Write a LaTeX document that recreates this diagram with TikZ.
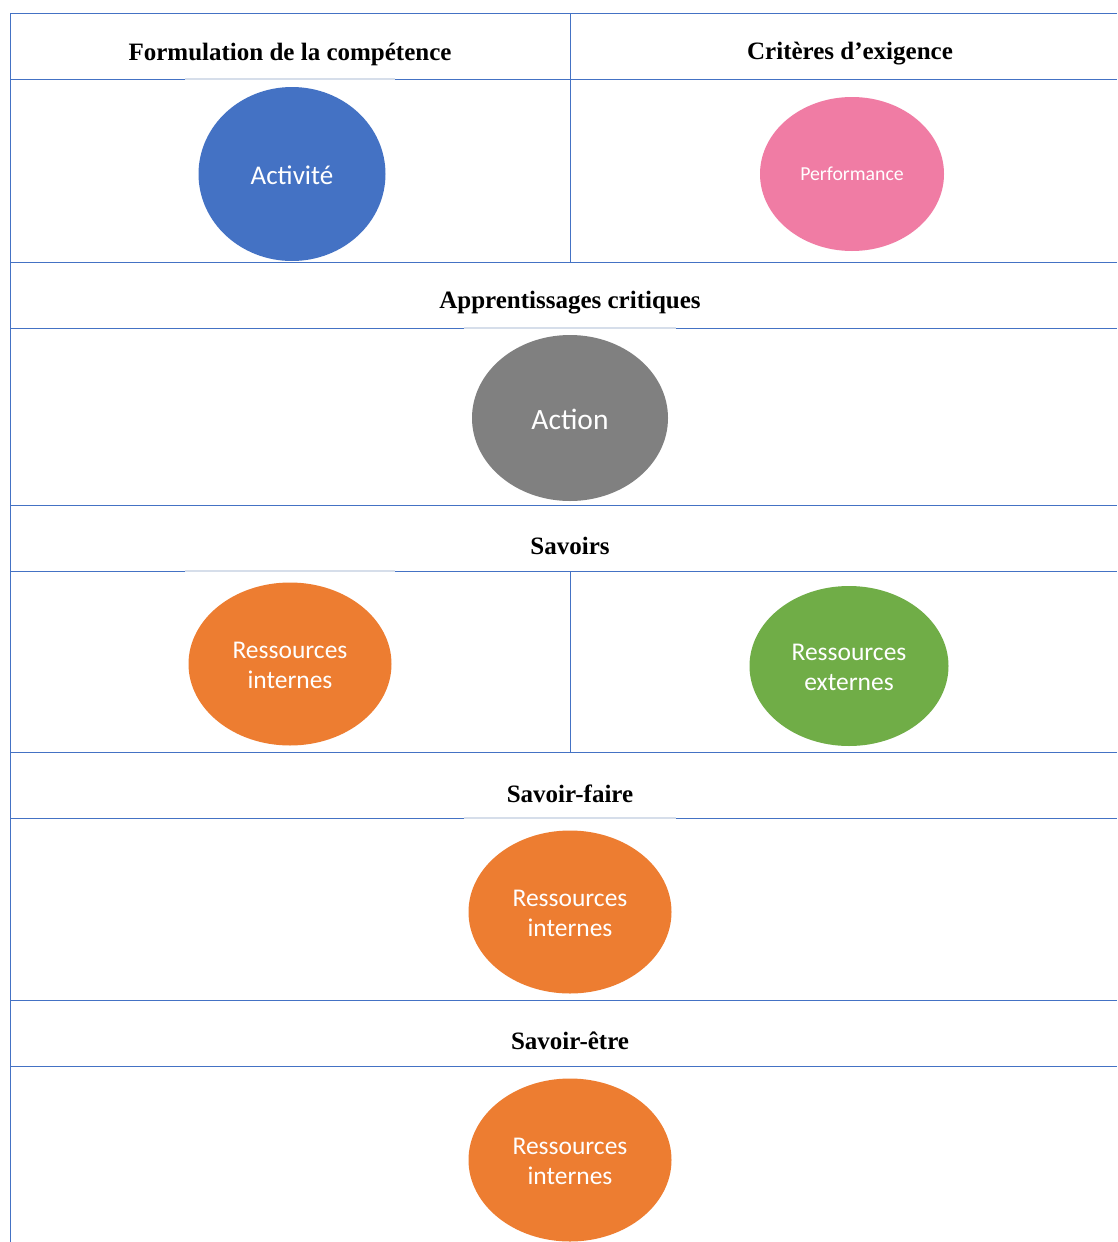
\documentclass[tikz,border=0pt]{standalone}
\usepackage{fontspec}
\setmainfont{Liberation Serif}
\newfontfamily\calib{Carlito}
\usetikzlibrary{shapes.geometric}
\definecolor{gridblue}{RGB}{68,114,196}
\definecolor{gaplight}{RGB}{214,222,234}
\definecolor{cblue}{RGB}{68,114,196}
\definecolor{cpink}{RGB}{240,124,164}
\definecolor{cgray}{RGB}{128,128,128}
\definecolor{corange}{RGB}{237,125,49}
\definecolor{cgreen}{RGB}{112,173,71}
\tikzset{
  gridline/.style={draw=gridblue,line width=1pt},
  gapline/.style={draw=gaplight,line width=1.2pt},
  hdr/.style={font=\fontsize{25}{29}\selectfont\bfseries,text=black,inner sep=0pt},
  blob/.style={ellipse,draw=none,inner sep=0pt,text=white,align=center},
  two/.style={font=\calib\fontsize{25.5}{30}\selectfont},
}
\begin{document}
\begin{tikzpicture}[x=1pt,y=-1pt]
\useasboundingbox (0,0) rectangle (1117,1242);
\fill[white] (0,0) rectangle (1117,1242);
% horizontal lines
\foreach \yy in {13,79,262,328,505,571,752,818,1000,1066}
  \draw[gridline] (10,\yy) -- (1117,\yy);
% verticals
\draw[gridline] (10,13) -- (10,1242);
\draw[gridline] (570,13) -- (570,262);
\draw[gridline] (570,571) -- (570,752);
% light gaps
\draw[gapline] (185,79) -- (395,79);
\draw[gapline] (464,328) -- (676,328);
\draw[gapline] (185,571) -- (395,571);
\draw[gapline] (464,818) -- (676,818);
% headers
\node[hdr] (h1) at (290,54) {Formulation de la compétence};
\node[hdr] (h2) at (850,54) {Critères d’exigence};
\node[hdr] (h3) at (570,303) {Apprentissages critiques};
\node[hdr] (h4) at (570,546) {Savoirs};
\node[hdr] (h5) at (570,794) {Savoir-faire};
\node[hdr] (h6) at (570,1041) {Savoir-être};
% ellipses
\node[blob,fill=cblue,minimum width=187,minimum height=174] (act) at (292,174) {};
\node[text=white,font=\calib\fontsize{27}{30}\selectfont] at ([yshift=-1]act.center) {Activité};
\node[blob,fill=cpink,minimum width=184,minimum height=154,font=\calib\fontsize{19.8}{23}\selectfont] (perf) at (852,174) {Performance};
\node[blob,fill=cgray,minimum width=196,minimum height=166] (action) at (570,418) {};
\node[text=white,font=\calib\fontsize{29.5}{32}\selectfont] at ([yshift=-1]action.center) {Action};
\node[blob,two,fill=corange,minimum width=203,minimum height=163] (ri1) at (290,664) {};
\node[two,text=white,align=center] at ([yshift=-1]ri1.center) {Ressources\\internes};
\node[blob,two,fill=cgreen,minimum width=199,minimum height=160] (re) at (849,666) {};
\node[two,text=white,align=center] at ([yshift=-1]re.center) {Ressources\\externes};
\node[blob,two,fill=corange,minimum width=203,minimum height=163] (ri2) at (570,912) {};
\node[two,text=white,align=center] at ([yshift=-1]ri2.center) {Ressources\\internes};
\node[blob,two,fill=corange,minimum width=203,minimum height=163] (ri3) at (570,1160) {};
\node[two,text=white,align=center] at ([yshift=-1]ri3.center) {Ressources\\internes};
\end{tikzpicture}
\end{document}
